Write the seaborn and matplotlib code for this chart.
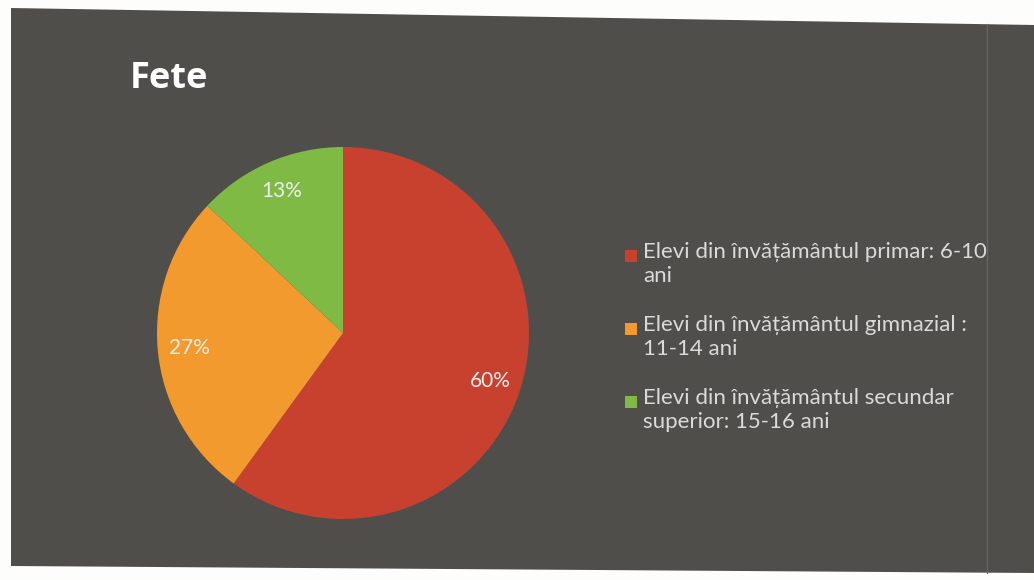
import matplotlib
matplotlib.use("Agg")
import matplotlib.pyplot as plt
import seaborn as sns
from matplotlib.patches import Polygon, Rectangle

# Datos del gráfico
titlu = "Fete"
categorii = [
    "Elevi din învățământul primar: 6-10\nani",
    "Elevi din învățământul gimnazial :\n11-14 ani",
    "Elevi din învățământul secundar\nsuperior: 15-16 ani",
]
procente = [60, 27, 13]
culori = ["#c8412f", "#f29a2e", "#7fba45"]

sns.set_style("dark")
plt.rcParams['font.family'] = ['Lato', 'DejaVu Sans']

W, H = 1034, 580
fig = plt.figure(figsize=(W / 100, H / 100), dpi=100)
fig.patch.set_facecolor("#fdfdfb")

def px(x, y):
    # pixeli (de sus) -> fracțiune din figură
    return x / W, 1 - y / H

# fundalul slide-ului (fotografiat ușor înclinat)
colturi = [(11, 8), (1034, 25), (1034, 573), (11, 566)]
fig.patches.append(Polygon([px(x, y) for x, y in colturi], closed=True,
                           transform=fig.transFigure, facecolor="#4f4e4b",
                           edgecolor="none", zorder=-5))
fig.add_artist(plt.Line2D([987 / W, 987 / W], [1 - 24 / H, 1 - 573 / H],
                          transform=fig.transFigure, color="#646461", lw=1,
                          zorder=-4))

# plăcinta
ax = fig.add_axes([157 / W, 1 - 519 / H, 372 / W, 372 / H])
ax.set_facecolor("none")
wedges, texte, autotexte = ax.pie(procente, colors=culori, startangle=90,
                                  counterclock=False, autopct='%.0f%%',
                                  pctdistance=0.83,
                                  wedgeprops=dict(linewidth=0, edgecolor="none"),
                                  textprops=dict(color="#ececec", fontsize=15))
ax.set_xlim(-1, 1)
ax.set_ylim(-1, 1)
ax.set_aspect("equal")
ax.axis("off")

fig.text(*px(130, 88), titlu, color="white", fontsize=26,
         fontweight="bold", family=['Open Sans', 'DejaVu Sans'], va="baseline")

# legenda, cu pătratul aliniat la primul rând
for i, (eticheta, culoare) in enumerate(zip(categorii, culori)):
    y0 = 242 + i * 73
    fig.text(*px(643, y0), eticheta, color="#dadada", fontsize=16,
             va="top", ha="left", linespacing=1.25)
    fig.patches.append(Rectangle(px(625, y0 + 20), 12 / W, 12 / H,
                                 transform=fig.transFigure, facecolor=culoare,
                                 edgecolor="none"))

fig.savefig("out.png", dpi=100)
